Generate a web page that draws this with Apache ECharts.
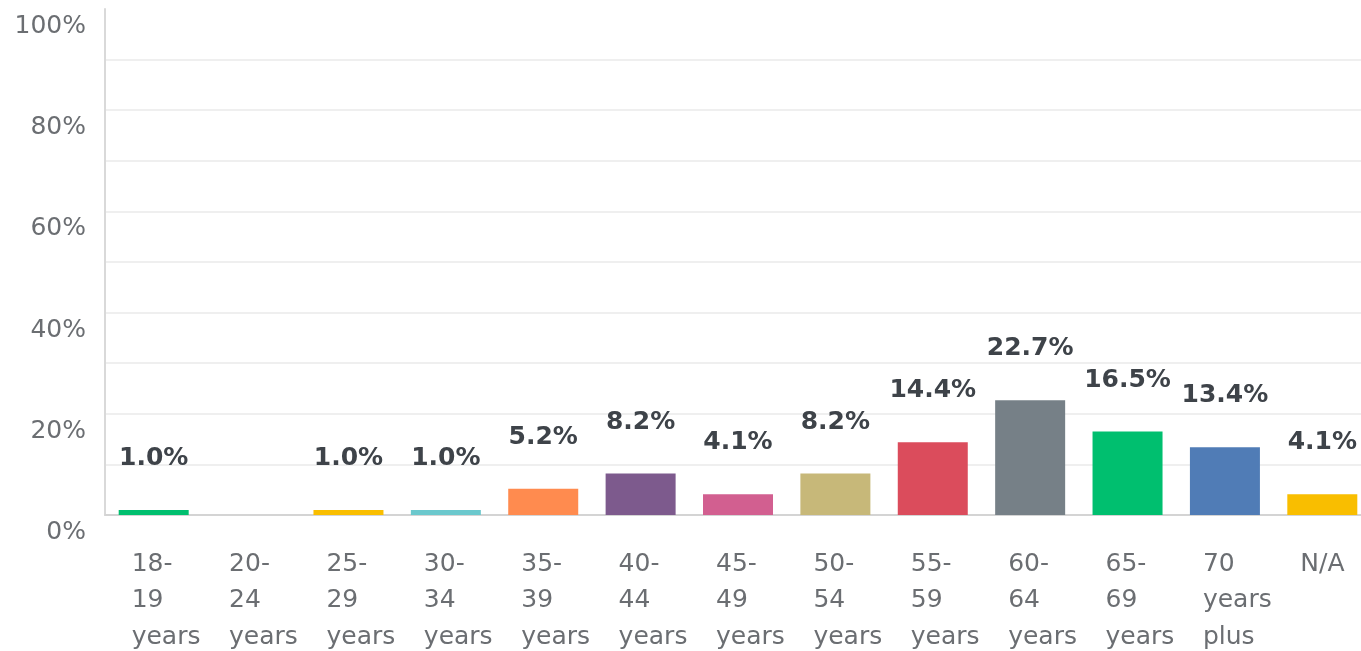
<!DOCTYPE html>
<html>
<head>
<meta charset="utf-8">
<script src="https://cdn.jsdelivr.net/npm/echarts@6/dist/echarts.min.js"></script>
<style>
  html, body { margin: 0; padding: 0; background: #fff; }
  #chart { width: 1361px; height: 651px; }
</style>
</head>
<body>
<div id="chart"></div>
<script>
const categories = ['18-\n19\nyears', '20-\n24\nyears', '25-\n29\nyears', '30-\n34\nyears', '35-\n39\nyears',
  '40-\n44\nyears', '45-\n49\nyears', '50-\n54\nyears', '55-\n59\nyears', '60-\n64\nyears',
  '65-\n69\nyears', '70\nyears\nplus', 'N/A']
const values = [1.0, 0.0, 1.0, 1.0, 5.2, 8.2, 4.1, 8.2, 14.4, 22.7, 16.5, 13.4, 4.1]
const barColors = ['#00bf6f', '#a1c94d', '#f9be00', '#6bc8cd', '#ff8b4f', '#7d5a8d', '#d25f90',
  '#c7b879', '#db4c5c', '#768087', '#00bf6f', '#507cb6', '#f9be00']
const yTicks = [0, 20, 40, 60, 80, 100]

const font = '"DejaVu Sans", sans-serif'

const myChart = echarts.init(document.getElementById('chart'))

const option = {
  animation: false,
  grid: {
    left: 105,
    right: -10,
    top: 9,
    bottom: 136,
    outerBoundsMode: 'none'
  },
  xAxis: {
    type: 'category',
    data: categories,
    axisLine: { lineStyle: { color: '#d4d4d4', width: 2 } },
    axisTick: { show: false },
    axisLabel: {
      interval: 0,
      margin: 31,
      color: '#6b6e72',
      fontFamily: font,
      fontSize: 25,
      lineHeight: 36.5,
      // each line left aligned, starting a little left of the category centre
      formatter: v => v.split('\n').map(s => '{a|' + s + '}').join('\n'),
      rich: {
        a: {
          width: 44,
          align: 'left',
          color: '#6b6e72',
          fontFamily: font,
          fontSize: 25,
          lineHeight: 36.5
        }
      }
    }
  },
  yAxis: {
    type: 'value',
    min: 0,
    max: 100,
    interval: 20,
    axisLine: { show: true, lineStyle: { color: '#d9d9d9', width: 2 } },
    axisTick: { show: false },
    axisLabel: {
      formatter: v => yTicks.includes(v) ? v + '%' : '',
      color: '#6b6e72',
      fontFamily: font,
      fontSize: 25,
      margin: 19,
      verticalAlign: 'top',
      padding: [5, 0, 0, 0]
    },
    splitLine: { showMaxLine: false, lineStyle: { color: '#efefef', width: 2 } },
    minorTick: { show: false, splitNumber: 2 },
    minorSplitLine: { show: true, lineStyle: { color: '#efefef', width: 2 } }
  },
  series: [
    {
      type: 'bar',
      barWidth: 70,
      data: values.map((v, i) => ({ value: v, itemStyle: { color: barColors[i] } })),
      label: {
        show: true,
        position: 'top',
        distance: 39,
        formatter: p => p.value > 0 ? p.value.toFixed(1) + '%' : '',
        color: '#3e4349',
        fontFamily: font,
        fontWeight: 'bold',
        fontSize: 25
      }
    }
  ]
}

myChart.setOption(option)
</script>
</body>
</html>
